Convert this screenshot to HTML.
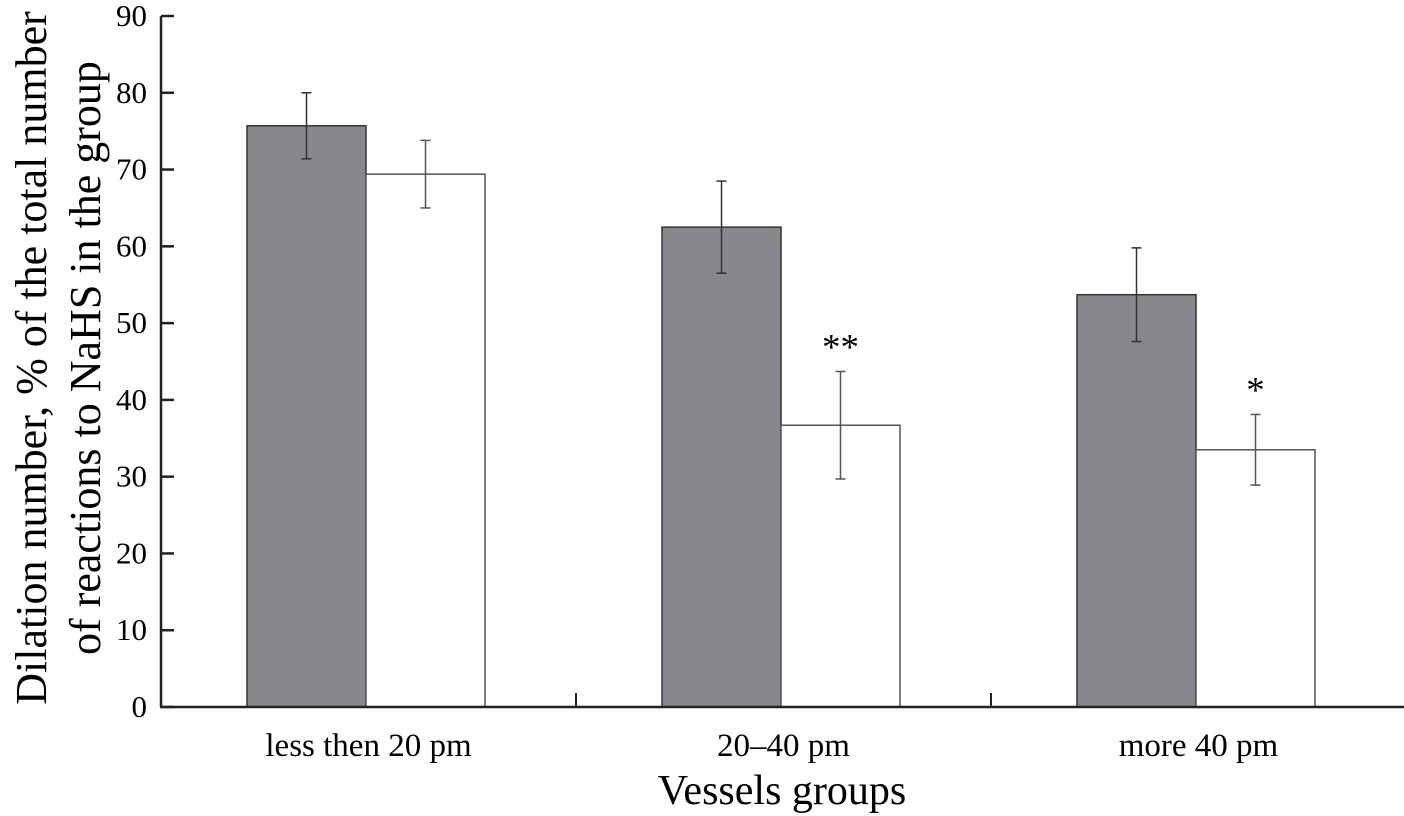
<!DOCTYPE html>
<html><head><meta charset="utf-8"><style>
html,body{margin:0;padding:0;background:#fff;}
svg{display:block;}
svg text, svg tspan{font-family:"Liberation Serif","DejaVu Serif",serif;}
</style></head><body>
<svg id="chart" width="1404" height="816" viewBox="0 0 1404 816"></svg>
<script>
const categories=["less then 20 pm","20\u201340 pm","more 40 pm"];
const seriesA=[75.7,62.5,53.7];
const seriesAErr=[4.3,6.0,6.1];
const seriesB=[69.4,36.7,33.5];
const seriesBErr=[4.4,7.0,4.6];
const marks=["","**","*"];
const yTicks=[0,10,20,30,40,50,60,70,80,90];

const NS="http://www.w3.org/2000/svg";
const svg=document.getElementById('chart');
const x0=161,groupW=415,plotBottom=707,plotTop=16,yMax=90;
const barW=119,barOff=86;
function y(v){return plotBottom-(v/yMax)*(plotBottom-plotTop);}
function gx(i){return x0+i*groupW;}
function mk(tag,attrs,parent){const e=document.createElementNS(NS,tag);for(const k in attrs)e.setAttribute(k,attrs[k]);(parent||svg).appendChild(e);return e;}

categories.forEach((c,i)=>{
  const b1=mk('rect',{x:gx(i)+barOff,y:y(seriesA[i]),width:barW,height:plotBottom-y(seriesA[i]),fill:'#87888c',stroke:'#333',"stroke-width":1.5});
  
  
  const b2=mk('rect',{x:gx(i)+barOff+barW,y:y(seriesB[i]),width:barW,height:plotBottom-y(seriesB[i]),fill:'#fff',stroke:'#555',"stroke-width":1.5});
  
  
  [[seriesA,seriesAErr,barOff+barW/2,'#333'],[seriesB,seriesBErr,barOff+barW*1.5,'#555']].forEach(([s,e,off,col],k)=>{
    const cx=gx(i)+off;
    const g=mk('g',{stroke:col,"stroke-width":1.5});
    
    
    mk('line',{x1:cx,x2:cx,y1:y(s[i]+e[i]),y2:y(s[i]-e[i])},g);
    mk('line',{x1:cx-5,x2:cx+5,y1:y(s[i]+e[i]),y2:y(s[i]+e[i])},g);
    mk('line',{x1:cx-5,x2:cx+5,y1:y(s[i]-e[i]),y2:y(s[i]-e[i])},g);
  });
  if(marks[i]){
    const t=mk('text',{x:gx(i)+barOff+barW*1.5,y:y(seriesB[i]+seriesBErr[i])-12,"text-anchor":"middle","font-size":37});
    t.textContent=marks[i];
    
    
  }
  const lb=mk('text',{x:gx(i)+groupW/2,y:756,"text-anchor":"middle","font-size":33});
  lb.textContent=c;
  
  
});

const ax=mk('g',{stroke:'#222',"stroke-width":2.5,fill:'none'});


mk('line',{x1:x0,x2:x0,y1:plotTop,y2:plotBottom},ax);
mk('line',{x1:x0-1,x2:1404,y1:plotBottom,y2:plotBottom},ax);
[1,2].forEach(i=>mk('line',{x1:gx(i),x2:gx(i),y1:plotBottom,y2:plotBottom-14,"stroke-width":2},ax));
yTicks.forEach(v=>{
  mk('line',{x1:x0,x2:x0+13,y1:y(v),y2:y(v)},ax);
  const t=mk('text',{x:x0-14,y:y(v)+10,"text-anchor":"end","font-size":31});
  t.textContent=v;
  
  
});
const xt=mk('text',{x:782,y:804,"text-anchor":"middle","font-size":42});
xt.textContent="Vessels groups";


const yt=mk('text',{transform:'translate(46,358) rotate(-90)',"text-anchor":"middle","font-size":44,"font-family":"Liberation Serif, serif"});


const s1=mk('tspan',{x:0,dy:0},yt);s1.textContent="Dilation number, % of the total number";
const s2=mk('tspan',{x:0,dy:54},yt);s2.textContent="of reactions to NaHS in the group";
</script>
</body></html>
